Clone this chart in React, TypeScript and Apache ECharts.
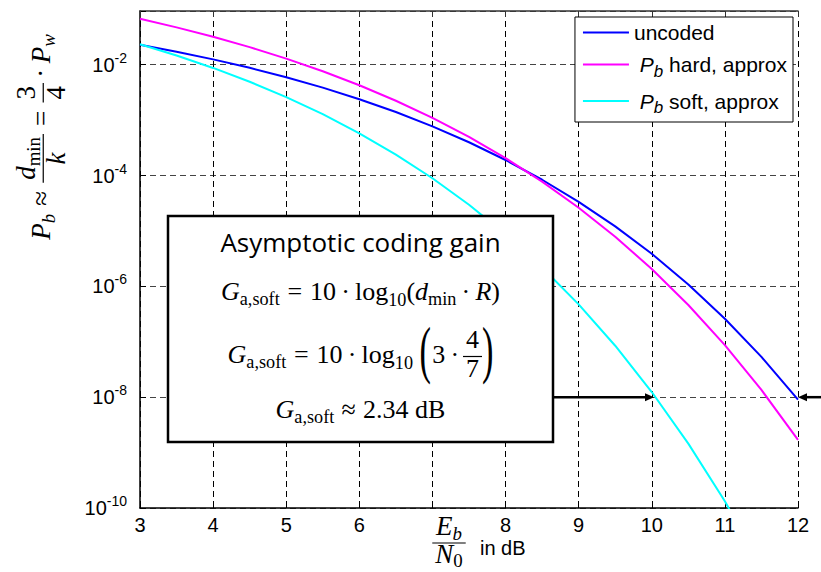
import { useEffect, useRef } from 'react';
import * as echarts from 'echarts';

// Eb/N0 grid in dB and bit error probabilities of the (7,4) Hamming code study
const ebN0dB = [3, 3.5, 4, 4.5, 5, 5.5, 6, 6.5, 7, 7.5, 8, 8.5, 9, 9.5, 10, 10.5, 11, 11.5, 12];
const uncodedBer = [
  2.29e-2, 1.72e-2, 1.25e-2, 8.8e-3, 5.95e-3, 3.86e-3, 2.39e-3, 1.4e-3, 7.73e-4, 3.99e-4,
  1.91e-4, 8.4e-5, 3.36e-5, 1.21e-5, 3.87e-6, 1.08e-6, 2.61e-7, 5.33e-8, 9.0e-9,
];
const hardApproxBer = [
  6.76e-2, 4.73e-2, 3.2e-2, 2.08e-2, 1.29e-2, 7.63e-3, 4.27e-3, 2.24e-3, 1.1e-3, 4.97e-4,
  2.06e-4, 7.79e-5, 2.63e-5, 7.87e-6, 2.06e-6, 4.62e-7, 8.72e-8, 1.35e-8, 1.7e-9,
];
const softApproxBer = [
  2.34e-2, 1.47e-2, 8.76e-3, 4.93e-3, 2.6e-3, 1.28e-3, 5.78e-4, 2.39e-4, 8.93e-5, 2.97e-5,
  8.67e-6, 2.19e-6, 4.73e-7, 8.49e-8, 1.24e-8, 1.45e-9, 1.32e-10, 9.0e-12, 4.4e-13,
];

// axis ranges (y in decades)
const xMin = 3;
const xMax = 12;
const yMinExp = -10;
const yMaxExp = -1.03;
const yStepExp = 2;

// arrows marking the gain at Pb = 1e-8
const gainLevelExp = -8;
const softAt1e8 = 10.03;
const uncodedAt1e8 = 12;

const seriesNames = ['uncoded', 'hard', 'soft'];
const seriesColors = ['#0000ff', '#ff00ff', '#00ffff'];
const legendLabels: Record<string, string> = {
  uncoded: '{n|uncoded}',
  hard: '{n| }{i|P}{sub|b}{n| hard, approx}',
  soft: '{n| }{i|P}{sub|b}{n| soft, approx}',
};

const SERIF = "'Liberation Serif', 'Times New Roman', serif";
const SANS = "'Liberation Sans', Arial, sans-serif";
const CENTRAL = 0.34;

type Glyph = { t: string; size: number; it?: boolean; dy?: number; pre?: number; sx?: number };
type Frac = { num: Glyph[]; den: Glyph[]; pre?: number; denShift?: number };
type MathItem = Glyph | Frac;

let measurer: CanvasRenderingContext2D | null = null;
const fontOf = (g: Glyph) => `${g.it ? 'italic ' : ''}${g.size}px ${SERIF}`;
function glyphWidth(g: Glyph) {
  if (!measurer) measurer = document.createElement('canvas').getContext('2d');
  measurer!.font = fontOf(g);
  return measurer!.measureText(g.t).width * (g.sx ?? 1);
}
const runWidth = (run: Glyph[]) => run.reduce((w, g) => w + (g.pre ?? 0) + glyphWidth(g), 0);
const FRAC_PAD = 3;
function itemWidth(it: MathItem) {
  if ('num' in it) return (it.pre ?? 0) + Math.max(runWidth(it.num), runWidth(it.den)) + 2 * FRAC_PAD;
  return (it.pre ?? 0) + glyphWidth(it);
}
const mathWidth = (items: MathItem[]) => items.reduce((w, it) => w + itemWidth(it), 0);

function placeRun(run: Glyph[], x: number, base: number, out: any[], z: number) {
  let cx = x;
  for (const g of run) {
    cx += g.pre ?? 0;
    out.push({
      type: 'text', x: cx, y: base + (g.dy ?? 0) - CENTRAL * g.size, scaleX: g.sx ?? 1, z, silent: true,
      style: { text: g.t, font: fontOf(g), fill: '#000', align: 'left', verticalAlign: 'middle' },
    });
    cx += glyphWidth(g);
  }
  return cx;
}

function placeMath(items: MathItem[], centerX: number, base: number, size: number, out: any[], z: number) {
  let x = centerX - mathWidth(items) / 2;
  const bar = base - 0.25 * size;
  for (const it of items) {
    if ('num' in it) {
      x += it.pre ?? 0;
      const wn = runWidth(it.num);
      const wd = runWidth(it.den);
      const w = Math.max(wn, wd) + 2 * FRAC_PAD;
      placeRun(it.num, x + (w - wn) / 2, bar - 0.3 * size, out, z);
      placeRun(it.den, x + (w - wd) / 2, bar + (it.denShift ?? 0.8) * size, out, z);
      out.push({ type: 'rect', z, silent: true, shape: { x, y: bar - 0.6, width: w, height: 1.2 }, style: { fill: '#000' } });
      x += w;
    } else {
      x = placeRun([it], x, base, out, z);
    }
  }
}

// Pb ≈ dmin/k · Pw (vertical axis title)
const S = 27;
const yTitle: MathItem[] = [
  { t: 'P', size: S, it: true },
  { t: 'b', size: 0.7 * S, it: true, dy: 0.17 * S },
  { t: '≈', size: S, pre: 0.3 * S },
  { pre: 0.3 * S, num: [{ t: 'd', size: S, it: true }, { t: 'min', size: 0.7 * S, dy: 0.17 * S }], den: [{ t: 'k', size: S, it: true }] },
  { t: '=', size: S, pre: 0.3 * S },
  { pre: 0.3 * S, num: [{ t: '3', size: S }], den: [{ t: '4', size: S }] },
  { t: '·', size: S, pre: 0.2 * S },
  { t: 'P', size: S, it: true, pre: 0.2 * S },
  { t: 'w', size: 0.7 * S, it: true, dy: 0.17 * S },
];

// Eb/N0 (horizontal axis title)
const X = 27;
const xTitle: MathItem[] = [
  {
    denShift: 0.76,
    num: [{ t: 'E', size: X, it: true }, { t: 'b', size: 0.7 * X, it: true, dy: 0.17 * X }],
    den: [{ t: 'N', size: X, it: true }, { t: '0', size: 0.7 * X, dy: 0.12 * X }],
  },
];

// coding gain box
const M = 26;
const gSoft = (): Glyph[] => [
  { t: 'G', size: M, it: true },
  { t: 'a,soft', size: 0.7 * M, dy: 0.2 * M },
];
const gainLine1: MathItem[] = [
  ...gSoft(),
  { t: '=', size: M, pre: 0.3 * M },
  { t: '10', size: M, pre: 0.3 * M },
  { t: '·', size: M, pre: 0.2 * M },
  { t: 'log', size: M, pre: 0.2 * M },
  { t: '10', size: 0.7 * M, dy: 0.25 * M },
  { t: '(', size: M },
  { t: 'd', size: M, it: true },
  { t: 'min', size: 0.7 * M, dy: 0.2 * M },
  { t: '·', size: M, pre: 0.2 * M },
  { t: 'R', size: M, it: true, pre: 0.2 * M },
  { t: ')', size: M },
];
const gainLine2: MathItem[] = [
  ...gSoft(),
  { t: '=', size: M, pre: 0.3 * M },
  { t: '10', size: M, pre: 0.3 * M },
  { t: '·', size: M, pre: 0.2 * M },
  { t: 'log', size: M, pre: 0.2 * M },
  { t: '10', size: 0.7 * M, dy: 0.25 * M },
  { t: '(', size: 2.4 * M, pre: 0.25 * M, dy: 0.31 * M, sx: 0.55 },
  { t: '3', size: M, pre: 0.05 * M },
  { t: '·', size: M, pre: 0.2 * M },
  { pre: 0.15 * M, num: [{ t: '4', size: M }], den: [{ t: '7', size: M }] },
  { t: ')', size: 2.4 * M, dy: 0.31 * M, sx: 0.55 },
];
const gainLine3: MathItem[] = [
  ...gSoft(),
  { t: '≈', size: M, pre: 0.28 * M },
  { t: '2.34', size: M, pre: 0.28 * M },
  { t: 'dB', size: M, pre: 0.25 * M },
];

const box = { left: 168, top: 216, right: 553, bottom: 442 };

function buildGraphics(chart: echarts.ECharts) {
  const toPx = (x: number, yExp: number) => chart.convertToPixel({ seriesIndex: 0 }, [x, yExp]) as number[];
  const els: any[] = [];

  // vertical axis title, rotated to read bottom-up
  const yKids: any[] = [];
  placeMath(yTitle, 0, 0, S, yKids, 10);
  els.push({ type: 'group', x: 50, y: 137, rotation: Math.PI / 2, children: yKids });

  // horizontal axis title
  placeMath(xTitle, 449, 543 + 0.25 * X, X, els, 10);
  els.push({
    type: 'text', x: 480, y: 548, z: 10, silent: true,
    style: { text: 'in dB', font: `20px ${SANS}`, fill: '#000', align: 'left', verticalAlign: 'middle' },
  });

  // coding gain box
  const cx = (box.left + box.right) / 2;
  els.push({
    type: 'rect', z: 50, silent: true,
    shape: { x: box.left, y: box.top, width: box.right - box.left, height: box.bottom - box.top },
    style: { fill: '#fff', stroke: '#000', lineWidth: 2.5 },
  });
  els.push({
    type: 'text', x: cx, y: 242, z: 51, silent: true,
    style: { text: 'Asymptotic coding gain', font: `26px 'Open Sans', ${SANS}`, fill: '#000', align: 'center', verticalAlign: 'middle' },
  });
  placeMath(gainLine1, cx, 300, M, els, 51);
  placeMath(gainLine2, cx, 363, M, els, 51);
  placeMath(gainLine3, cx, 418, M, els, 51);

  // arrows at Pb = 1e-8
  const head = 9;
  const half = 4;
  const tipL = toPx(softAt1e8, gainLevelExp);
  els.push({
    type: 'line', z: 52, silent: true,
    shape: { x1: box.right, y1: tipL[1], x2: tipL[0] - head + 1, y2: tipL[1] },
    style: { stroke: '#000', lineWidth: 2.5 },
  });
  els.push({
    type: 'polygon', z: 52, silent: true,
    shape: { points: [[tipL[0], tipL[1]], [tipL[0] - head, tipL[1] - half], [tipL[0] - head, tipL[1] + half]] },
    style: { fill: '#000' },
  });
  const tipR = toPx(uncodedAt1e8, gainLevelExp);
  els.push({
    type: 'line', z: 52, silent: true,
    shape: { x1: 821, y1: tipR[1], x2: tipR[0] + head - 1, y2: tipR[1] },
    style: { stroke: '#000', lineWidth: 2.5 },
  });
  els.push({
    type: 'polygon', z: 52, silent: true,
    shape: { points: [[tipR[0], tipR[1]], [tipR[0] + head, tipR[1] - half], [tipR[0] + head, tipR[1] + half]] },
    style: { fill: '#000' },
  });
  return els;
}

export default function App() {
  const ref = useRef<HTMLDivElement>(null);
  useEffect(() => {
    const chart = echarts.init(ref.current!, null, { renderer: 'svg' });
    const toLog = (arr: number[]) => ebN0dB.map((x, i) => [x, Math.log10(arr[i])]);
    const berSets = [uncodedBer, hardApproxBer, softApproxBer];
    const tickFont = { fontSize: 20, fontFamily: SANS, color: '#000' };

    chart.setOption({
      animation: false,
      backgroundColor: '#fff',
      grid: { left: 140, right: 23, top: 11, bottom: 64, containLabel: false, outerBoundsMode: 'none' },
      legend: {
        orient: 'vertical',
        right: 28,
        top: 17,
        data: seriesNames.map((name) => ({ name, icon: 'rect' })),
        backgroundColor: '#fff',
        borderColor: '#000',
        borderWidth: 1,
        borderRadius: 0,
        padding: [5, 6, 6, 8],
        itemGap: 11,
        itemWidth: 46,
        itemHeight: 2,
        formatter: (name: string) => legendLabels[name],
        textStyle: {
          color: '#000',
          rich: {
            n: { fontSize: 21, fontFamily: SANS, color: '#000', lineHeight: 30 },
            i: { fontSize: 21, fontFamily: SANS, fontStyle: 'italic', color: '#000', lineHeight: 30 },
            sub: { fontSize: 17, fontFamily: SANS, fontStyle: 'italic', color: '#000', lineHeight: 2, verticalAlign: 'bottom' },
          },
        },
      },
      xAxis: [
        {
          type: 'value', min: xMin, max: xMax, interval: 1, position: 'bottom',
          axisLine: { show: true, onZero: false, lineStyle: { color: '#000', width: 1.5 } },
          axisTick: { show: true, inside: true, length: 6, lineStyle: { color: '#000' } },
          axisLabel: { ...tickFont, margin: 7, formatter: (v: number) => (v === 7 ? '' : String(v)) },
          splitLine: { show: true, lineStyle: { color: '#000', type: [6, 4], width: 1 } },
        },
        {
          type: 'value', min: xMin, max: xMax, interval: 1, position: 'top',
          axisLine: { show: true, onZero: false, lineStyle: { color: '#333', width: 1.5 } },
          axisTick: { show: true, inside: true, length: 6, lineStyle: { color: '#333' } },
          axisLabel: { show: false },
          splitLine: { show: false },
        },
      ],
      yAxis: {
        type: 'value', min: yMinExp, max: yMaxExp, interval: yStepExp,
        axisLine: { show: true, onZero: false, lineStyle: { color: '#000', width: 1.5 } },
        axisTick: { show: true, inside: true, length: 6, lineStyle: { color: '#000' } },
        axisLabel: {
          margin: 13,
          formatter: (v: number) => (Math.abs(v - Math.round(v)) > 1e-6 ? '' : `{b|10}{s|${v}}`),
          rich: {
            b: { fontSize: 20, fontFamily: SANS, color: '#000', lineHeight: 28 },
            s: { fontSize: 14, fontFamily: SANS, color: '#000', lineHeight: 14, verticalAlign: 'top' },
          },
        },
        splitLine: { show: true, lineStyle: { color: '#444', type: [6, 4], width: 1 } },
      },
      series: seriesNames.map((name, k) => ({
        name,
        type: 'line',
        data: toLog(berSets[k]),
        symbol: 'none',
        smooth: false,
        clip: true,
        lineStyle: { color: seriesColors[k], width: 2 },
        itemStyle: { color: seriesColors[k] },
        z: 3,
      })),
    });
    chart.setOption({ graphic: { elements: buildGraphics(chart) } });
    return () => chart.dispose();
  }, []);
  return (
    <div
      ref={ref}
      style={{ position: 'absolute', left: 0, top: 0, width: 821, height: 572, background: '#fff' }}
    />
  );
}
